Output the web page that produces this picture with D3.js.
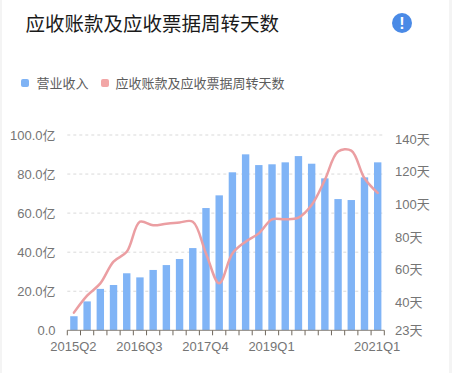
<!DOCTYPE html>
<html>
<head>
<meta charset="utf-8">
<script src="https://cdn.jsdelivr.net/npm/d3@7"></script>
<style>
  html, body { margin: 0; padding: 0; background: #fff; }
  svg text { font-family: "Liberation Sans", "Noto Sans CJK SC", sans-serif; }
  .cjk { font-family: "Noto Sans CJK SC", sans-serif; }
</style>
</head>
<body>
<svg id="chart" width="452" height="373" style="display:block"></svg>
<script>
// values
const quarters = ["2015Q2","2015Q3","2015Q4","2016Q1","2016Q2","2016Q3","2016Q4","2017Q1","2017Q2","2017Q3","2017Q4","2018Q1",
  "2018Q2","2018Q3","2018Q4","2019Q1","2019Q2","2019Q3","2019Q4","2020Q1","2020Q2","2020Q3","2020Q4","2021Q1"];
const revenue = [7.2,14.8,21.2,23.2,29.2,27.1,30.9,33.4,36.5,42.1,62.6,69.1,80.9,90.1,84.6,85,86,89.2,85.3,77.8,67.2,66.7,78.3,86];
const turnoverDays = [33.8,44.2,51.7,65,71,89.4,87.2,88.2,89,89.4,70,51.7,70,77.2,82.3,90.9,90.9,91.9,99.6,115,132.3,132.9,116,107];
const xLabels = ["2015Q2","2016Q3","2017Q4","2019Q1","2021Q1"];
const leftTicks = [0,20,40,60,80,100];
const rightTicks = [23,40,60,80,100,120,140];
const gridTicks = [20,40,60,80,100];

const plotLeft = 67.3, plotRight = 384.3, plotTop = 135, plotBottom = 330.3;

const svg = d3.select("#chart");

// card edges
svg.append("rect").attr("x", 0).attr("y", 0).attr("width", 2).attr("height", 373).attr("fill", "#f4f4f4");
svg.append("rect").attr("x", 449).attr("y", 0).attr("width", 3).attr("height", 373).attr("fill", "#f4f4f4");

const x = d3.scaleBand().domain(quarters).range([plotLeft, plotRight]);
const yLeft = d3.scaleLinear().domain([0, 100]).range([plotBottom, plotTop]);
const yRight = d3.scaleLinear().domain([23, 140]).range([plotBottom, 139]);

// title and info icon
svg.append("text").attr("class", "cjk").attr("x", 25.5).attr("y", 31)
  .attr("font-size", 19.5).attr("fill", "#1a1a1a").text("应收账款及应收票据周转天数");
svg.append("circle").attr("cx", 402).attr("cy", 23).attr("r", 10).attr("fill", "#4a8ae6");
svg.append("text").attr("x", 402).attr("y", 29).attr("text-anchor", "middle")
  .attr("font-size", 16).attr("font-weight", "bold").attr("fill", "#fff").text("!");

// legend
const legend = [
  { label: "营业收入", color: "#7fb3f5", sx: 21, tx: 36.5 },
  { label: "应收账款及应收票据周转天数", color: "#f2a6a6", sx: 101, tx: 115.5 }
];
legend.forEach(d => {
  svg.append("rect").attr("x", d.sx).attr("y", 79).attr("width", 8).attr("height", 8).attr("rx", 2).attr("fill", d.color);
  svg.append("text").attr("class", "cjk").attr("x", d.tx).attr("y", 87.5)
    .attr("font-size", 13).attr("fill", "#5c5c5c").text(d.label);
});

// grid
svg.append("g").selectAll("line").data(gridTicks).join("line")
  .attr("x1", plotLeft).attr("x2", plotRight)
  .attr("y1", d => yLeft(d)).attr("y2", d => yLeft(d))
  .attr("stroke", "#d9d9d9").attr("stroke-dasharray", "3,3");

// bars
svg.append("g").selectAll("rect").data(revenue).join("rect")
  .attr("x", (d, i) => x(quarters[i]) + x.bandwidth() / 2 - 3.7)
  .attr("width", 7.4)
  .attr("y", d => yLeft(d))
  .attr("height", d => plotBottom - yLeft(d))
  .attr("fill", "#80b4f6");

// line
const line = d3.line()
  .x((d, i) => x(quarters[i]) + x.bandwidth() / 2)
  .y(d => yRight(d))
  .curve(d3.curveCatmullRom.alpha(0.5));
svg.append("path").datum(turnoverDays)
  .attr("d", line)
  .attr("fill", "none")
  .attr("stroke", "#eb9ea2")
  .attr("stroke-width", 2.5)
  .attr("stroke-linecap", "round");

// x axis, ticks sit on the band edges
const xAxis = svg.append("g").attr("transform", `translate(0,${plotBottom})`);
xAxis.append("line").attr("x1", plotLeft).attr("x2", plotRight).attr("stroke", "#8a8378");
xAxis.selectAll(".edge").data(d3.range(quarters.length + 1)).join("line")
  .attr("class", "edge")
  .attr("x1", i => plotLeft + i * x.step()).attr("x2", i => plotLeft + i * x.step())
  .attr("y1", 0).attr("y2", 5)
  .attr("stroke", "#6f675c");
xAxis.selectAll("text").data(xLabels).join("text")
  .attr("x", d => x(d) + x.bandwidth() / 2 - 0.5)
  .attr("y", 21)
  .attr("text-anchor", "middle")
  .attr("font-size", 13)
  .attr("fill", "#757575")
  .text(d => d);

// left axis
const axisL = d3.axisLeft(yLeft).tickValues(leftTicks).tickSize(0).tickPadding(0)
  .tickFormat(d => d === 0 ? "0.0" : d3.format(".1f")(d) + "亿");
svg.append("g").attr("transform", `translate(55.5,0)`).call(axisL)
  .call(g => g.select(".domain").remove())
  .selectAll("text").attr("font-size", 13).attr("fill", "#757575")
  .style("font-family", '"Liberation Sans","Noto Sans CJK SC",sans-serif');

// right axis
const axisR = d3.axisRight(yRight).tickValues(rightTicks).tickSize(0).tickPadding(0)
  .tickFormat(d => d + "天");
svg.append("g").attr("transform", `translate(395,0)`).call(axisR)
  .call(g => g.select(".domain").remove())
  .selectAll("text").attr("font-size", 13).attr("fill", "#757575")
  .style("font-family", '"Liberation Sans","Noto Sans CJK SC",sans-serif');
</script>
</body>
</html>
